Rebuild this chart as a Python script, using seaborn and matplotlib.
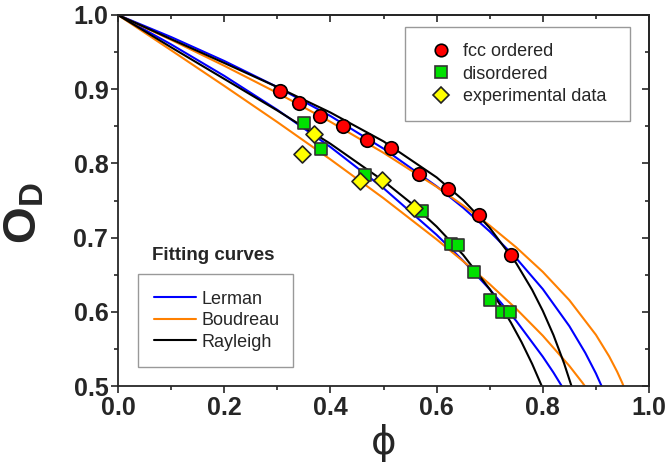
import matplotlib
matplotlib.use("Agg")
import matplotlib.pyplot as plt
from matplotlib.lines import Line2D
from matplotlib.ticker import MultipleLocator
import seaborn as sns
import pandas as pd

# ---- data points ----
phi_fcc = [0.306, 0.340, 0.380, 0.424, 0.468, 0.515, 0.567, 0.621, 0.679, 0.740]
od_fcc = [0.898, 0.882, 0.864, 0.850, 0.831, 0.821, 0.786, 0.766, 0.731, 0.676]

phi_dis = [0.350, 0.382, 0.466, 0.573, 0.627, 0.641, 0.670, 0.701, 0.723, 0.738]
od_dis = [0.855, 0.819, 0.784, 0.736, 0.692, 0.690, 0.653, 0.616, 0.600, 0.600]

phi_exp = [0.346, 0.369, 0.456, 0.498, 0.558]
od_exp = [0.812, 0.839, 0.776, 0.778, 0.740]

# ---- fitting curves, upper set (fcc ordered) ----
phi_ler_up = [0, 0.1, 0.2, 0.3, 0.4, 0.5, 0.6, 0.65, 0.7, 0.75, 0.8, 0.85, 0.88, 0.9, 0.92]
od_ler_up = [1, 0.9703, 0.9381, 0.9029, 0.8639, 0.8199, 0.7691, 0.7403, 0.7083, 0.6722,
             0.6306, 0.5807, 0.5447, 0.5170, 0.4850]
phi_bou_up = [0, 0.1, 0.2, 0.3, 0.4, 0.5, 0.6, 0.65, 0.7, 0.75, 0.8, 0.85, 0.9, 0.925, 0.94, 0.95, 0.97]
od_bou_up = [1, 0.9665, 0.9316, 0.8950, 0.8561, 0.8143, 0.7684, 0.7433, 0.7163, 0.6868,
             0.6538, 0.6157, 0.5690, 0.5399, 0.5193, 0.5036, 0.4643]
phi_ray_up = [0, 0.1, 0.2, 0.3, 0.4, 0.5, 0.6, 0.65, 0.7, 0.75, 0.78, 0.8, 0.82, 0.84, 0.854, 0.86]
od_ray_up = [1, 0.9675, 0.9354, 0.9029, 0.8686, 0.8297, 0.7812, 0.7506, 0.7132, 0.6654,
             0.6295, 0.6013, 0.5688, 0.5307, 0.5000, 0.4856]

# ---- fitting curves, lower set (disordered / experimental) ----
phi_ler_lo = [0, 0.1, 0.2, 0.3, 0.4, 0.5, 0.6, 0.65, 0.7, 0.75, 0.8, 0.82, 0.85]
od_ler_lo = [1, 0.9604, 0.9180, 0.8722, 0.8221, 0.7666, 0.7038, 0.6687, 0.6303, 0.5877,
             0.5395, 0.5182, 0.4832]
phi_bou_lo = [0, 0.1, 0.2, 0.3, 0.4, 0.5, 0.6, 0.65, 0.7, 0.75, 0.8, 0.85, 0.875, 0.9]
od_bou_lo = [1, 0.9525, 0.9045, 0.8557, 0.8054, 0.7531, 0.6976, 0.6682, 0.6372, 0.6040,
             0.5678, 0.5271, 0.5041, 0.4787]
phi_ray_lo = [0, 0.1, 0.2, 0.3, 0.4, 0.5, 0.55, 0.6, 0.65, 0.7, 0.72, 0.74, 0.76, 0.78, 0.798, 0.805]
od_ray_lo = [1, 0.9565, 0.9139, 0.8713, 0.8265, 0.7764, 0.7476, 0.7149, 0.6767, 0.6305,
             0.6090, 0.5854, 0.5591, 0.5297, 0.5000, 0.4875]

curve_names = ["Lerman", "Boudreau", "Rayleigh"]
curve_colors = {"Lerman": "#0000FF", "Boudreau": "#FF8000", "Rayleigh": "#000000"}
point_labels = ["fcc ordered", "disordered", "experimental data"]
x_ticks = [0.0, 0.2, 0.4, 0.6, 0.8, 1.0]
y_ticks = [0.5, 0.6, 0.7, 0.8, 0.9, 1.0]

sns.set_style("ticks")
plt.rcParams["font.family"] = ["Liberation Sans", "DejaVu Sans"]
plt.rcParams["mathtext.fontset"] = "custom"
plt.rcParams["mathtext.bf"] = "Liberation Sans:bold"
plt.rcParams["mathtext.rm"] = "Liberation Sans"

fig = plt.figure(figsize=(6.7, 4.66), dpi=100)
L, R, T, B = 118, 649, 15, 386
ax = fig.add_axes([L / 670, 1 - B / 466, (R - L) / 670, (B - T) / 466])

rows = []
for name, sets in [("Lerman", [(phi_ler_up, od_ler_up, "up"), (phi_ler_lo, od_ler_lo, "lo")]),
                   ("Boudreau", [(phi_bou_up, od_bou_up, "up"), (phi_bou_lo, od_bou_lo, "lo")]),
                   ("Rayleigh", [(phi_ray_up, od_ray_up, "up"), (phi_ray_lo, od_ray_lo, "lo")])]:
    for px, py, grp in sets:
        for i, (a, b) in enumerate(zip(px, py)):
            rows.append({"phi": a, "od": b, "model": name, "set": grp, "i": i})
curves = pd.DataFrame(rows)
curves["key"] = curves["model"] + "_" + curves["set"]

for key, sub in curves.groupby("key", sort=False):
    name = sub["model"].iloc[0]
    sns.lineplot(data=sub, x="phi", y="od", sort=False, estimator=None,
                 color=curve_colors[name], lw=1.5, ax=ax, legend=False, zorder=2)

pts = pd.concat([
    pd.DataFrame({"phi": phi_fcc, "od": od_fcc, "kind": point_labels[0]}),
    pd.DataFrame({"phi": phi_dis, "od": od_dis, "kind": point_labels[1]}),
    pd.DataFrame({"phi": phi_exp, "od": od_exp, "kind": point_labels[2]}),
])
sns.scatterplot(data=pts[pts.kind == point_labels[1]], x="phi", y="od", marker="s",
                color="#00E000", edgecolor="#333333", linewidth=1.2, s=70, ax=ax,
                legend=False, zorder=3)
sns.scatterplot(data=pts[pts.kind == point_labels[2]], x="phi", y="od", marker="D",
                color="#FFFF00", edgecolor="#222222", linewidth=1.2, s=75, ax=ax,
                legend=False, zorder=4)
sns.scatterplot(data=pts[pts.kind == point_labels[0]], x="phi", y="od", marker="o",
                color="#FF0000", edgecolor="#000000", linewidth=1.2, s=95, ax=ax,
                legend=False, zorder=5)

ax.set_xlim(0, 1.0)
ax.set_ylim(0.5, 1.0)
ax.set_xticks(x_ticks)
ax.set_yticks(y_ticks)
ax.set_xticklabels([f"{v:.1f}" for v in x_ticks])
ax.set_yticklabels([f"{v:.1f}" for v in y_ticks])
ax.xaxis.set_minor_locator(MultipleLocator(0.1))
ax.yaxis.set_minor_locator(MultipleLocator(0.05))
ax.tick_params(which="major", direction="out", length=5, width=1.2, labelsize=18, pad=2)
ax.tick_params(which="minor", direction="out", length=3, width=1.2)
for lab in ax.get_xticklabels() + ax.get_yticklabels():
    lab.set_fontweight("bold")
for sp in ax.spines.values():
    sp.set_visible(True)
    sp.set_linewidth(1.3)
ax.set_xlabel("")
ax.set_ylabel("")

secx = ax.secondary_xaxis("top")
secx.set_xticks(x_ticks)
secx.xaxis.set_minor_locator(MultipleLocator(0.1))
secx.tick_params(which="major", direction="in", length=5, width=1.2, labeltop=False)
secx.tick_params(which="minor", direction="in", length=3, width=1.2)
secx.spines["top"].set_linewidth(1.3)
secy = ax.secondary_yaxis("right")
secy.set_yticks(y_ticks)
secy.yaxis.set_minor_locator(MultipleLocator(0.05))
secy.tick_params(which="major", direction="in", length=5, width=1.2, labelright=False)
secy.tick_params(which="minor", direction="in", length=3, width=1.2)
secy.spines["right"].set_linewidth(1.3)

# axis labels
fig.text(384 / 670, 1 - 443 / 466, "\u03d5", fontsize=28, ha="center", va="center",
         family="DejaVu Sans")
fig.text(24 / 670, 1 - 213 / 466, r"$\mathbf{O}_{\mathbf{D}}$", fontsize=34,
         ha="center", va="center", rotation=90)

# legend of points
h_pts = [
    Line2D([], [], ls="none", marker="o", ms=9, mfc="#FF0000", mec="#000000", mew=1.2),
    Line2D([], [], ls="none", marker="s", ms=8, mfc="#00E000", mec="#333333", mew=1.2),
    Line2D([], [], ls="none", marker="D", ms=8, mfc="#FFFF00", mec="#222222", mew=1.2),
]
leg1 = ax.legend(h_pts, point_labels, loc="upper left",
                 bbox_to_anchor=(0.540, 0.968, 0.424, 0.0), mode="expand",
                 fontsize=13, frameon=True, fancybox=False, edgecolor="#808080",
                 borderpad=0.9, labelspacing=0.3, handletextpad=0.1, handlelength=2.2,
                 borderaxespad=0)
leg1.get_frame().set_linewidth(1.0)
ax.add_artist(leg1)

h_lines = [Line2D([], [], color=curve_colors[n], lw=1.5) for n in curve_names]
leg2 = ax.legend(h_lines, curve_names, loc="lower left",
                 bbox_to_anchor=(0.0377, 0.0512, 0.292, 0.0), mode="expand",
                 fontsize=13, frameon=True, fancybox=False, edgecolor="#808080",
                 borderpad=0.9, labelspacing=0.25, handletextpad=0.3, handlelength=2.3,
                 borderaxespad=0)
leg2.get_frame().set_linewidth(1.0)
ax.text(0.064, 0.353, "Fitting curves", transform=ax.transAxes, fontsize=13.5,
        fontweight="bold", ha="left", va="center")

fig.savefig("out.png", dpi=100)
